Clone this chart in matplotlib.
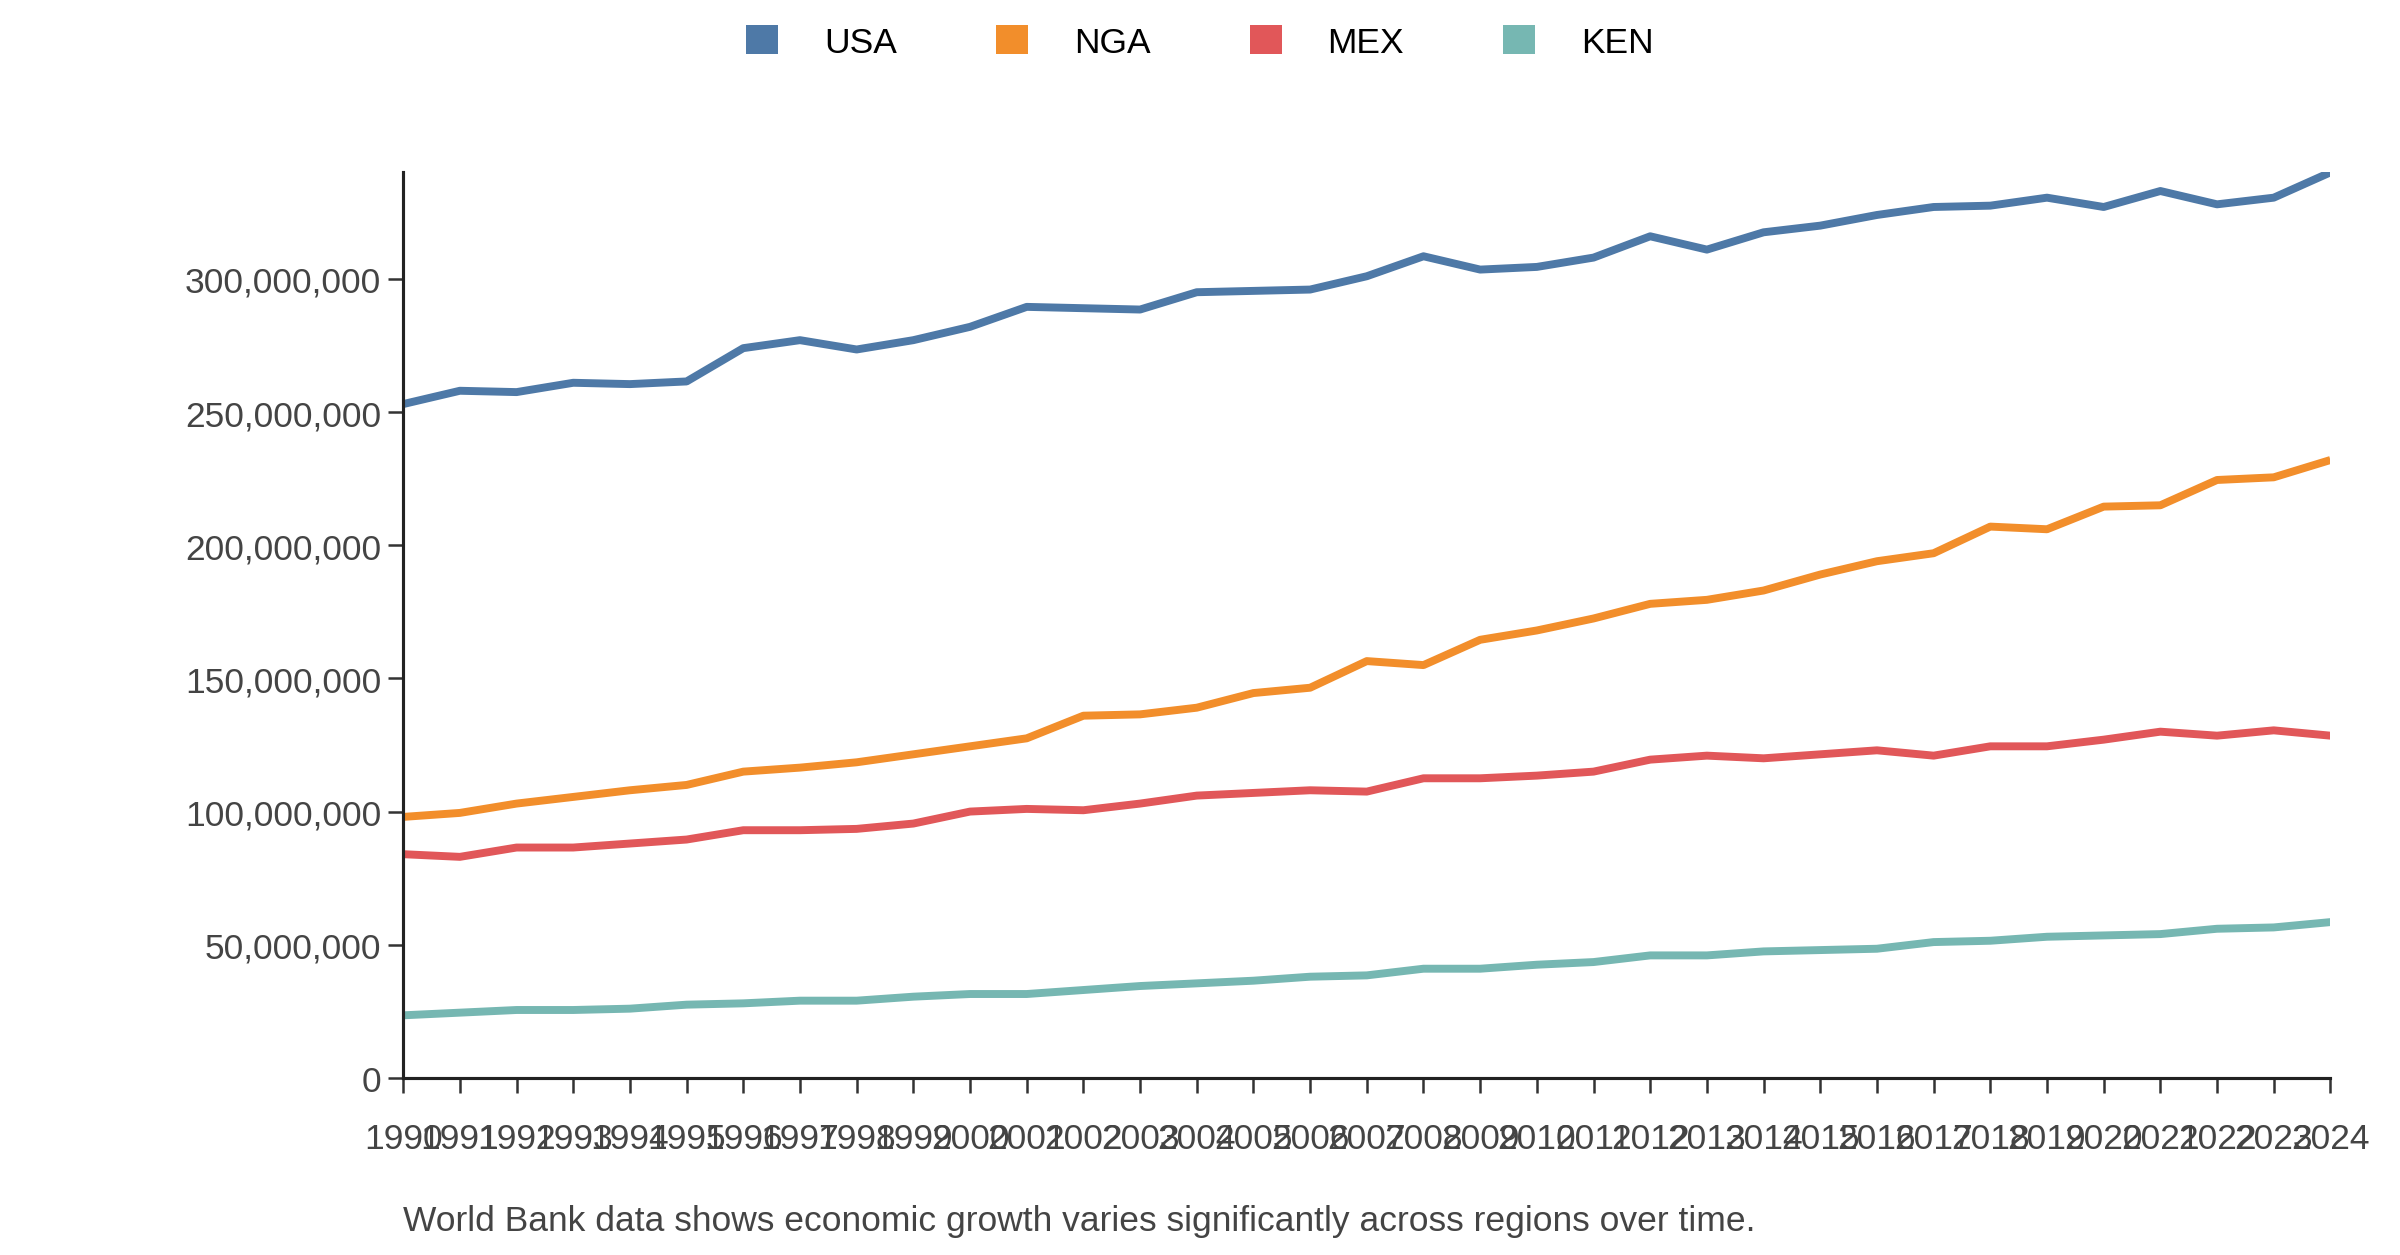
import matplotlib
matplotlib.use("Agg")
import matplotlib.pyplot as plt
from matplotlib.ticker import FuncFormatter
from matplotlib.patches import Patch

plt.rcParams["font.family"] = ["Liberation Sans", "DejaVu Sans"]

years = list(range(1990, 2025))
usa = [253, 258, 257.5, 261, 260.5, 261.5, 274, 277, 273.5, 277, 282, 289.5, 289, 288.5, 295, 295.5,
       296, 301, 308.5, 303.5, 304.5, 308, 316, 311, 317.5, 320, 324, 327, 327.5, 330.5, 327, 333,
       328, 330.5, 340]
nga = [98, 99.5, 103, 105.5, 108, 110, 115, 116.5, 118.5, 121.5, 124.5, 127.5, 136, 136.5, 139,
       144.5, 146.5, 156.5, 155, 164.5, 168, 172.5, 178, 179.5, 183, 189, 194, 197, 207, 206, 214.5,
       215, 224.5, 225.5, 232]
mex = [84, 83, 86.5, 86.5, 88, 89.5, 93, 93, 93.5, 95.5, 100, 101, 100.5, 103, 106, 107, 108, 107.5,
       112.5, 112.5, 113.5, 115, 119.5, 121, 120, 121.5, 123, 121, 124.5, 124.5, 127, 130, 128.5,
       130.5, 128.5]
ken = [23.5, 24.5, 25.5, 25.5, 26, 27.5, 28, 29, 29, 30.5, 31.5, 31.5, 33, 34.5, 35.5, 36.5, 38, 38.5,
       41, 41, 42.5, 43.5, 46, 46, 47.5, 48, 48.5, 51, 51.5, 53, 53.5, 54, 56, 56.5, 58.5]
series = [("USA", usa, "#4e79a7"), ("NGA", nga, "#f28e2b"),
          ("MEX", mex, "#e15759"), ("KEN", ken, "#76b7b2")]

fig = plt.figure(figsize=(16, 8.373), dpi=150)
ax = fig.add_axes([0.168, 0.141, 0.803, 0.721])
for name, vals, col in series:
    ax.plot(years, [v * 1e6 for v in vals], color=col, lw=3.8, solid_capstyle="butt")

ax.set_xlim(1990, 2024)
ax.set_ylim(0, 340e6)
ax.set_xticks(years)
ax.set_xticklabels([str(y) for y in years])
ax.set_yticks(range(0, 300000001, 50000000))
ax.yaxis.set_major_formatter(FuncFormatter(lambda v, p: f"{int(v):,}"))
ax.tick_params(labelsize=17, colors="#333333", length=7, width=1.2, labelcolor="#444444")
ax.tick_params(axis="x", pad=14)
for s in ("top", "right"):
    ax.spines[s].set_visible(False)
for s in ("left", "bottom"):
    ax.spines[s].set_linewidth(1.5)
    ax.spines[s].set_color("#222222")

handles = [Patch(facecolor=c, edgecolor="none", label=n) for n, _, c in series]
fig.legend(handles=handles, loc="upper center", bbox_to_anchor=(0.5, 1.005), ncol=4, frameon=False,
           fontsize=17, handlelength=0.9, handleheight=0.9, handletextpad=1.3, columnspacing=2.8)
fig.text(0.168, 0.02, "World Bank data shows economic growth varies significantly across regions over time.",
         fontsize=17, color="#444444")
fig.savefig("out.png", dpi=150)
